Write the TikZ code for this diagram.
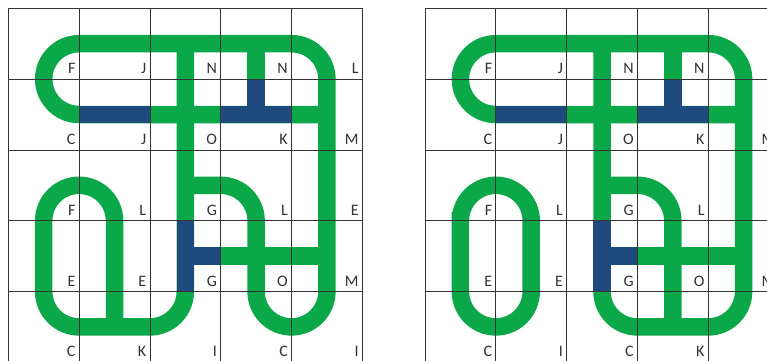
\documentclass[tikz,border=0pt]{standalone}
\usepackage{fontspec}
\setmainfont{Carlito}
\definecolor{pipegreen}{HTML}{0BA84A}
\definecolor{pipeblue}{HTML}{1F4A7E}
\definecolor{gridline}{HTML}{333333}
\definecolor{labelorange}{HTML}{F7A04A}
\tikzset{
  pipe/.style={line width=17.5pt, pipegreen, line cap=butt},
  blocked/.style={line width=17.5pt, pipeblue, line cap=butt},
  cellline/.style={gridline, line width=0.8pt},
  lbl/.style={anchor=base east, inner sep=0pt, xshift=-3.5pt, yshift=5.5pt,
    font=\fontsize{16}{18}\selectfont, text=black!80}
}
\begin{document}
\begin{tikzpicture}[x=70.8pt, y=70.8pt]
\useasboundingbox (0pt,0pt) rectangle (767pt,-360pt);
\fill[white] (0pt,0pt) rectangle (767pt,-360pt);
\clip (0pt,0pt) rectangle (767pt,-360pt);

% left board
\begin{scope}[shift={(8.3pt,-8.3pt)}]
\draw[pipe] (4.5,-1.5) -- (1,-1.5) arc[start angle=270, end angle=90, radius=0.5]
  -- (4,-0.5) arc[start angle=90, end angle=0, radius=0.5]
  -- (4.5,-4) arc[start angle=0, end angle=-180, radius=0.5]
  -- (3.5,-3) arc[start angle=0, end angle=90, radius=0.5] -- (2.5,-2.5);
\draw[pipe] (2.5,-0.5) -- (2.5,-4) arc[start angle=0, end angle=-90, radius=0.5]
  -- (1,-4.5) arc[start angle=270, end angle=180, radius=0.5]
  -- (0.5,-3) arc[start angle=180, end angle=0, radius=0.5] -- (1.5,-4.5);
\draw[pipe] (3.5,-0.5) -- (3.5,-1.5);
\draw[pipe] (2.5,-3.5) -- (4.5,-3.5);
\draw[blocked] (1,-1.5) -- (2,-1.5);
\draw[blocked] (3,-1.5) -- (4,-1.5);
\draw[blocked] (3.5,-1) -- (3.5,-1.5);
\draw[blocked] (2.5,-3) -- (2.5,-4);
\draw[blocked] (2.5,-3.5) -- (3,-3.5);
\foreach \i in {0,...,5} \draw[cellline] (\i,0) -- (\i,-5.2);
\foreach \j in {0,...,4} \draw[cellline] (0,-\j) -- (5,-\j);
\foreach \r/\row in {0/{F,J,N,N,L}, 1/{C,J,O,K,M}, 2/{F,L,G,L,E}, 3/{E,E,G,O,M}, 4/{C,K,I,C,I}}
  \foreach \t [count=\c] in \row
    \node[lbl] (la-\r-\c) at (\c,-\r-1) {\t};
\end{scope}

% right board
\begin{scope}[shift={(425pt,-8.3pt)}]
\draw[pipe] (4.5,-1.5) -- (1,-1.5) arc[start angle=270, end angle=90, radius=0.5]
  -- (4,-0.5) arc[start angle=90, end angle=0, radius=0.5]
  -- (4.5,-4) arc[start angle=0, end angle=-90, radius=0.5]
  -- (3,-4.5) arc[start angle=270, end angle=180, radius=0.5] -- (2.5,-0.5);
\draw[pipe] (2.5,-2.5) -- (3,-2.5) arc[start angle=90, end angle=0, radius=0.5] -- (3.5,-4.5);
\draw[pipe] (3.5,-0.5) -- (3.5,-1.5);
\draw[pipe] (2.5,-3.5) -- (4.5,-3.5);
\draw[pipe] (0.5,-3) -- (0.5,-4) arc[start angle=180, end angle=360, radius=0.5]
  -- (1.5,-3) arc[start angle=0, end angle=180, radius=0.5] -- cycle;
\draw[blocked] (1,-1.5) -- (2,-1.5);
\draw[blocked] (3,-1.5) -- (4,-1.5);
\draw[blocked] (3.5,-1) -- (3.5,-1.5);
\draw[blocked] (2.5,-3) -- (2.5,-4);
\draw[blocked] (2.5,-3.5) -- (3,-3.5);
\foreach \i in {0,...,4} \draw[cellline] (\i,0) -- (\i,-5.2);
\foreach \j in {0,...,4} \draw[cellline] (0,-\j) -- (5.2,-\j);
\foreach \r/\row in {0/{F,J,N,N}, 1/{C,J,O,K,M}, 2/{F,L,G,L}, 3/{E,E,G,O,M}, 4/{C,I,C,K}}
  \foreach \t [count=\c] in \row
    \node[lbl] (lb-\r-\c) at (\c,-\r-1) {\t};
\node[lbl, text=labelorange] (lb-2-5) at (5,-3) {E};
\end{scope}
\end{tikzpicture}
\end{document}
